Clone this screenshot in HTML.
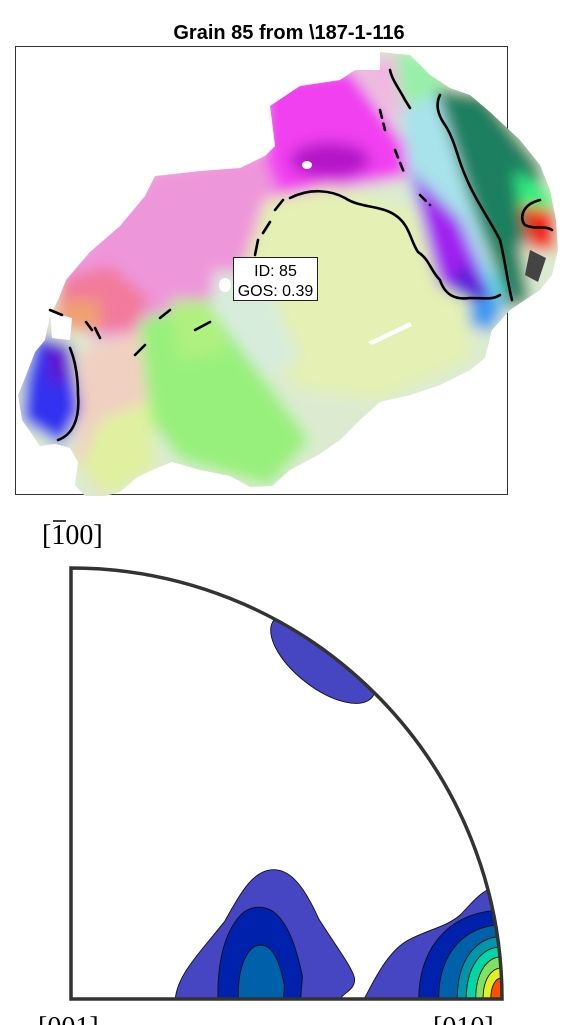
<!DOCTYPE html>
<html><head><meta charset="utf-8">
<style>
html,body{margin:0;padding:0;background:#fff;}
svg{display:block;}
</style></head>
<body>
<svg id="fig" width="573" height="1025" viewBox="0 0 573 1025" xmlns="http://www.w3.org/2000/svg">
<defs>
<clipPath id="grainClip"><path d="M380,52 L410,55 L430,75 L450,88 L470,95 L490,112 L520,140 L540,165 L550,190 L556,220 L558,250 L552,275 L540,290 L525,300 L510,310 L492,330 L485,358 L470,370 L440,385 L410,395 L380,402 L360,420 L340,440 L318,455 L290,470 L272,486 L250,487 L230,476 L200,470 L172,462 L152,470 L136,478 L120,492 L105,496 L85,496 L75,485 L78,462 L70,448 L55,444 L40,446 L22,420 L18,395 L25,378 L35,352 L45,340 L50,316 L58,300 L66,280 L90,252 L120,226 L145,196 L155,176 L200,171 L240,168 L265,156 L275,146 L270,106 L300,86 L340,80 L355,70 L380,70 Z"/></clipPath>
<filter id="blur" x="-10%" y="-10%" width="120%" height="120%"><feGaussianBlur stdDeviation="7"/></filter>
<clipPath id="poleClip"><path d="M71,999 L71,568 A431,431 0 0 1 502,999 Z"/></clipPath>
</defs>

<text x="289" y="39" text-anchor="middle" font-family="Liberation Sans, sans-serif" font-weight="bold" font-size="20">Grain 85 from \187-1-116</text>
<rect x="15.5" y="46.5" width="492" height="448" fill="#fff" stroke="#333" stroke-width="1"/>

<g clip-path="url(#grainClip)">
<g filter="url(#blur)">
<rect x="0" y="40" width="573" height="470" fill="#dcebd0"/>
<polygon points="150,170 270,150 290,190 255,260 210,300 150,330 100,340 60,320 60,270" fill="#ee96da"/>
<polygon points="60,280 110,265 150,300 130,330 90,330 55,320" fill="#f27a9a"/>
<polygon points="60,300 100,300 100,330 60,330" fill="#f0a070"/>
<polygon points="262,80 350,68 410,150 420,175 330,190 280,195 265,160" fill="#f040f0"/>
<ellipse cx="330" cy="160" rx="40" ry="18" fill="#b418c8"/>
<polygon points="350,62 410,52 425,125 395,120" fill="#f2b6e2"/>
<polygon points="395,50 440,60 445,95 420,110 400,100" fill="#98f0a8"/>
<polygon points="400,110 440,92 470,190 500,300 470,300 440,250 410,190" fill="#a8e2ea"/>
<polygon points="470,250 500,280 505,310 470,320" fill="#60e8f0"/>
<polygon points="410,170 460,220 490,290 470,300 440,290 420,210" fill="#a022f0"/>
<polygon points="460,260 495,295 470,305 450,295" fill="#5a22d8"/>
<polygon points="465,300 505,300 492,332 470,325" fill="#3898f0"/>
<polygon points="436,88 485,95 540,165 548,225 520,245 530,300 510,310 470,200" fill="#1b8060"/>
<polygon points="515,170 555,195 550,215 520,210" fill="#30f080"/>
<polygon points="522,205 556,212 556,250 530,250" fill="#f22010"/>
<polygon points="265,200 330,186 415,210 440,285 470,300 470,360 380,400 300,390 260,340 240,280" fill="#e4f0b4"/>
<polygon points="215,270 265,280 300,360 250,380 210,320" fill="#d8ecdc"/>
<polygon points="140,320 205,300 250,360 310,440 270,486 180,460 135,400" fill="#98f07c"/>
<polygon points="170,300 210,300 230,350 180,360" fill="#b0f080"/>
<polygon points="80,350 140,330 150,420 150,475 100,496 75,460" fill="#f0d0c0"/>
<polygon points="100,420 150,400 155,470 110,496 80,470" fill="#e0f0a0"/>
<polygon points="36,335 70,345 80,410 62,445 22,420 25,380" fill="#3232f0"/>
<polygon points="45,340 70,345 75,380 50,385" fill="#6012d0"/>
</g>
<polygon points="468,82 482,84 488,105 475,98" fill="#444"/>
<polygon points="530,250 546,258 538,282 525,275" fill="#444"/>
<ellipse cx="307" cy="165" rx="5" ry="4" fill="#fff"/>
<ellipse cx="225" cy="285" rx="6" ry="7" fill="#fff"/>
<polygon points="50,312 72,318 70,340 52,338" fill="#fff"/>
<polygon points="368,342 410,322 412,326 372,345" fill="#fff"/>
</g>

<g fill="none" stroke="#000" stroke-width="2.6" stroke-linecap="round">
<path d="M290,198 C310,188 330,190 345,198 C360,208 380,205 395,215 C410,225 410,240 418,252 C430,260 430,270 440,280 C445,295 455,300 470,298 C485,298 492,300 500,295"/>
<path d="M283,200 L275,210 M270,222 L263,233 M258,240 L255,255" />
<path d="M195,330 L210,322 M160,318 L170,310 M135,355 L145,345 M86,322 L92,330 M95,328 L100,338"/>
<path d="M440,95 C435,105 438,115 445,125 C455,140 458,160 465,175 C475,200 490,220 500,240 C505,260 508,285 512,300"/>
<path d="M390,70 C392,80 400,90 405,100 L410,108"/>
<path d="M540,200 C520,205 520,220 525,225 C535,230 545,225 552,230"/>
<path d="M70,348 C75,360 78,375 78,395 C80,420 72,435 58,440"/>
<path d="M50,310 L62,315"/>
<path d="M380,110 L385,130 M395,150 L405,175 M420,195 L430,205" stroke-dasharray="8 6"/>
</g>

<g>
<rect x="233.5" y="257.5" width="84" height="43" fill="#fff" stroke="#222" stroke-width="1"/>
<text x="275.5" y="276" text-anchor="middle" font-family="Liberation Sans, sans-serif" font-size="16">ID: 85</text>
<text x="275.5" y="296" text-anchor="middle" font-family="Liberation Sans, sans-serif" font-size="16">GOS: 0.39</text>
</g>

<g>
<text x="42" y="544" font-family="Liberation Serif, serif" font-size="28">[100]</text>
<line x1="53" y1="521" x2="66" y2="521" stroke="#000" stroke-width="1.5"/>
</g>
<text x="38" y="1036" font-family="Liberation Serif, serif" font-size="28">[001]</text>
<text x="433" y="1036" font-family="Liberation Serif, serif" font-size="28">[010]</text>

<g id="contours" clip-path="url(#poleClip)"></g>
<path d="M71,999 L71,568 A431,431 0 0 1 502,999 Z" fill="none" stroke="#333" stroke-width="3.5" stroke-linejoin="miter"/>
</svg>
<script>
// pole-figure contour data (fractions of radius)
const levelColors = ['#4646c3','#0021ac','#0061ab','#0095a8','#00d6a6','#80e060','#e0f020','#ff5000'];
const rightRx = [0.193, 0.147, 0.104, 0.083, 0.061, 0.044, 0.026];
const rightRy = [0.206, 0.172, 0.145, 0.121, 0.098, 0.072, 0.049];
const leftCenter = [0.45, 0.438, 0.441];
const leftHalfWidth = [0.208, 0.097, 0.053];
const leftHeight = [0.30, 0.213, 0.125];

const ox = 71, oy = 999, R = 431;
const sx = f => ox + f * R;
const sy = f => oy - f * R;
const g = document.getElementById('contours');
const NS = 'http://www.w3.org/2000/svg';
function add(d, fill, name) {
  const p = document.createElementNS(NS, 'path');
  p.setAttribute('d', d);
  p.setAttribute('fill', fill);
  p.setAttribute('stroke', '#111');
  p.setAttribute('stroke-width', '0.9');
  
  
  g.appendChild(p);
}
// top blob
const e = document.createElementNS(NS, 'ellipse');
e.setAttribute('cx', sx(0.585)); e.setAttribute('cy', sy(0.79));
e.setAttribute('rx', 0.145 * R); e.setAttribute('ry', 0.068 * R);
e.setAttribute('transform', 'rotate(38 ' + sx(0.585) + ' ' + sy(0.79) + ')');
e.setAttribute('fill', levelColors[0]); e.setAttribute('stroke', '#111'); e.setAttribute('stroke-width', '0.9');


g.appendChild(e);
// left blob: normalized shapes (u in [-1,1], v in [0,1])
const bump = [[-1,0],[-0.98,0.19],[-0.7,0.38],[-0.45,0.6],[-0.25,0.85],[-0.12,1],[0.1,1],[0.3,1],[0.45,0.85],[0.6,0.62],[0.8,0.4],[1,0.22],[1,0.15],[1,0.07],[0.88,0.05],[0.84,0]];
const mound = [[-1,0],[-1.02,0.45],[-0.8,0.75],[-0.45,0.92],[-0.2,1.03],[0.2,1.03],[0.45,0.9],[0.75,0.75],[0.9,0.5],[1.02,0.25],[1,0.1],[0.98,0.05],[0.98,0]];
leftHalfWidth.forEach((w, i) => {
  const c = leftCenter[i], h = leftHeight[i];
  const shape = i === 0 ? bump : mound;
  const P = shape.map(([u, v]) => [sx(c + u * w), sy(v * h)]);
  let d = `M${P[0][0]},${P[0][1]}`;
  for (let k = 1; k + 2 < P.length; k += 3) d += ` C${P[k]} ${P[k+1]} ${P[k+2]}`;
  d += 'Z';
  add(d, levelColors[i], 'contour-left-level-' + i);
});
// right blob outer level
add(`M${sx(0.68)},${oy} C${sx(0.698)},${oy-14} ${sx(0.729)},${oy-44} ${sx(0.775)},${oy-57} C${sx(0.821)},${oy-69} ${sx(0.868)},${oy-71} ${sx(0.903)},${oy-84} C${sx(0.93)},${oy-96} ${sx(0.949)},${oy-107} ${sx(0.977)},${oy-111} L${sx(1)+6},${oy-111} L${sx(1)+6},${oy}Z`, levelColors[0], 'contour-right-level-outer');
// right blob inner levels
rightRx.forEach((rx, i) => {
  const ex = sx(1), bx = sx(1 - rx), ty = sy(rightRy[i]);
  const d = `M${bx},${oy} C${bx},${ty+(oy-ty)*0.35} ${bx+(ex-bx)*0.45},${ty} ${ex},${ty} L${ex+6},${ty} L${ex+6},${oy}Z`;
  add(d, levelColors[i + 1], 'contour-right-level-' + (i + 1));
});
</script>
</body></html>
